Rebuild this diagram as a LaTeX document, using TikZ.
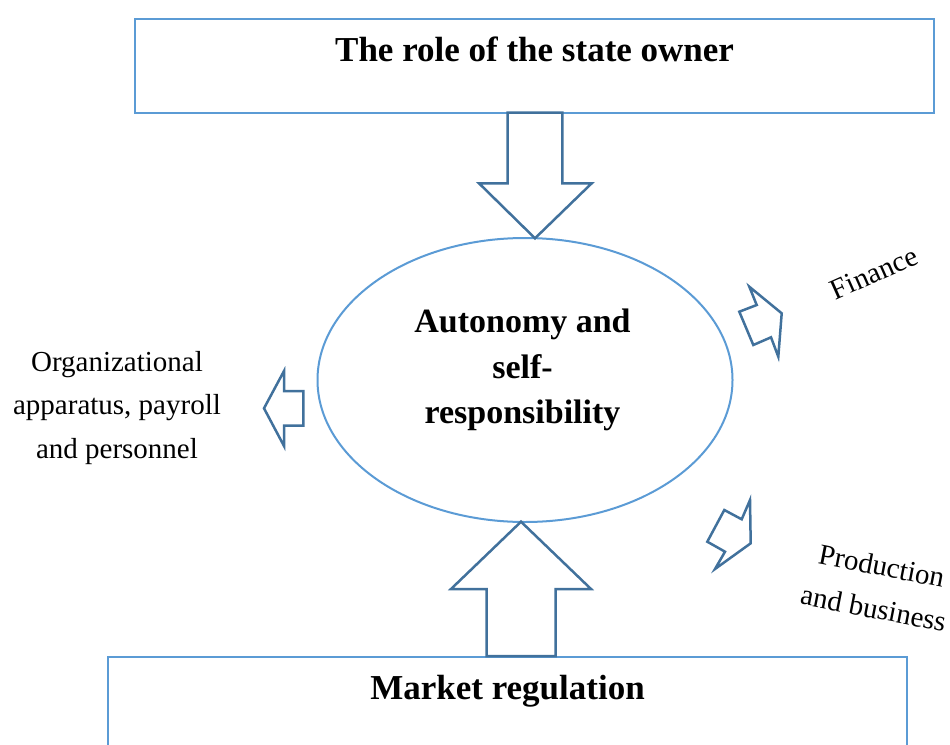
\documentclass[tikz,border=0pt]{standalone}
\usepackage{fontspec}
\setmainfont{Liberation Serif}
\usetikzlibrary{shapes.geometric}
\definecolor{boxblue}{HTML}{5B9BD5}
\definecolor{arrowblue}{HTML}{41719C}
\tikzset{every node/.style={inner sep=0pt},
  box/.style={draw=boxblue, line width=2pt, minimum width=798.4pt, font=\bfseries\fontsize{35}{42}\selectfont},
  core/.style={ellipse, draw=boxblue, line width=2pt},
  boldtext/.style={font=\bfseries\fontsize{34}{45.8}\selectfont},
  plaintext/.style={font=\fontsize{29}{43.3}\selectfont},
  blockarrow/.style={draw=arrowblue, line width=2.5pt, fill=white, line join=miter}}

\begin{document}
\begin{tikzpicture}[x=1pt, y=-1pt]
   \clip (0,0) rectangle (950,744);
   % boxes and ellipse
   \node[box, text height=42.4pt, text depth=51pt] (owner) at (534.6,66) {The role of the state owner};
   \node[box, text height=43.3pt, text depth=60pt] (market) at (507.5,708.3) {Market regulation};
   \node[core, minimum width=415pt, minimum height=284pt] (core) at (525,380) {};
   \node[boldtext, align=center] (coretext) at (522.5,370) {Autonomy and\\self-\\responsibility};
   % labels
   \node[plaintext, align=center] (staff) at (117,408) {Organizational\\apparatus, payroll\\and personnel};
   \node[plaintext, rotate=24] (finance) at (874,273) {Finance};
   \node[plaintext, align=center, rotate=-11] (production) at (877.7,587) {Production\\and business};
   % block arrows
   \draw[blockarrow] (507.7,112.7) -- (562.3,112.7) -- (562.3,183.3) -- (591.7,183.3)
      -- (535,238.3) -- (479,183.3) -- (507.7,183.3) -- cycle;
   \draw[blockarrow] (486.7,656) -- (555.7,656) -- (555.7,589) -- (591,589)
      -- (521,521.7) -- (451,589) -- (486.7,589) -- cycle;
   \draw[blockarrow] (303.3,391) -- (284,391) -- (284,371) -- (264,408.3)
      -- (284,446) -- (284,425.7) -- (303.3,425.7) -- cycle;
   \draw[blockarrow] (749.3,286.7) -- (756.7,305) -- (739.3,311.7) -- (753.3,345)
      -- (771,337.3) -- (778.3,356.7) -- (781.7,313.3) -- cycle;
   \draw[blockarrow] (750,500) -- (750.7,543.3) -- (715,569) -- (725,551.7)
      -- (707.3,541.7) -- (724.3,510) -- (741.7,519.3) -- cycle;
\end{tikzpicture}
\end{document}
